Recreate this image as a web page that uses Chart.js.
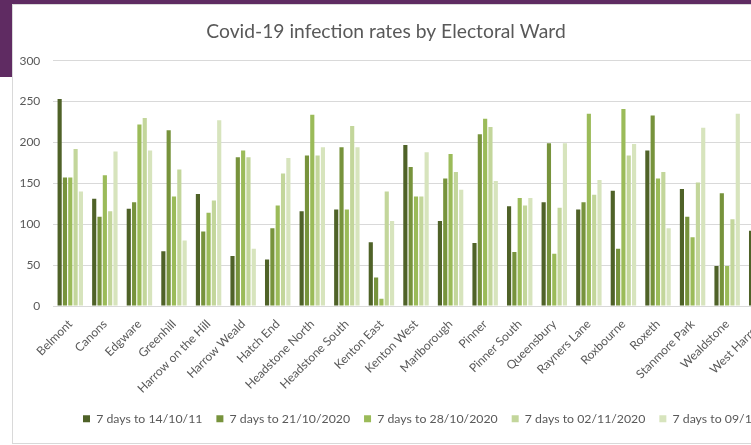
<!DOCTYPE html>
<html><head><meta charset="utf-8">
<script src="https://cdn.jsdelivr.net/npm/chart.js@4"></script>
<style>
html,body{margin:0;padding:0;width:751px;height:445px;overflow:hidden;background:#fff;}
#topbar{position:absolute;left:0;top:0;width:751px;height:4px;background:#5f2b62;}
#sidebar{position:absolute;left:0;top:0;width:12px;height:77px;background:#5f2b62;}
#box{position:absolute;left:12px;top:4px;width:880px;height:438px;border:1px solid #d9d9d9;background:#fff;}
#wrap{position:absolute;left:0;top:0;width:850px;height:438px;}
</style></head>
<body>
<div id="topbar"></div><div id="sidebar"></div>
<div id="box"><div id="wrap"><canvas id="c"></canvas></div></div>
<script>
const categories = ['Belmont','Canons','Edgware','Greenhill','Harrow on the Hill','Harrow Weald','Hatch End','Headstone North','Headstone South','Kenton East','Kenton West','Marlborough','Pinner','Pinner South','Queensbury','Rayners Lane','Roxbourne','Roxeth','Stanmore Park','Wealdstone','West Harrow'];
const seriesLabels = ['7 days to 14/10/11','7 days to 21/10/2020','7 days to 28/10/2020','7 days to 02/11/2020','7 days to 09/11/2020'];
const week1 = [253,131,119,67,137,61,57,116,118,78,197,104,77,122,127,118,141,190,143,49,92];
const week2 = [157,109,127,215,91,182,95,184,194,35,170,156,210,66,199,127,70,233,109,138,110];
const week3 = [157,160,222,134,114,190,123,234,118,9,134,186,229,132,64,235,241,156,84,49,130];
const week4 = [192,116,230,167,129,182,162,184,220,140,134,164,219,123,120,136,184,164,151,106,150];
const week5 = [140,189,190,80,227,70,181,194,194,104,188,142,153,132,199,154,198,95,218,235,170];
const yTicks = [0,50,100,150,200,250,300];
const colors = ['#4f6228','#77933c','#9bbb59','#c3d69b','#d7e4bd'];
const FONT = 'Lato';

const allSeries = [week1,week2,week3,week4,week5];
const titleShift = {id:'titleShift', afterLayout(chart){ const t = chart.titleBlock; if(t){ t.left = 0; t.right = 746; } }};

new Chart(document.getElementById('c'), {
  type:'bar',
  data:{
    labels:categories,
    datasets: allSeries.map((d,i)=>({label:seriesLabels[i], data:d, backgroundColor:colors[i], borderWidth:0, barPercentage:0.78, categoryPercentage:0.77}))
  },
  plugins:[titleShift],
  options:{
    responsive:true, maintainAspectRatio:false, animation:false,
    layout:{padding:{left:0,right:0,top:0,bottom:8}},
    plugins:{
      title:{display:true, text:'Covid-19 infection rates by Electoral Ward', color:'#595959', font:{size:19.3, weight:'normal', family:FONT}, padding:{top:15, bottom:17.5}},
      legend:{position:'bottom', labels:{boxWidth:7, boxHeight:7, padding:14, color:'#595959', font:{size:12.3, family:FONT}}},
      tooltip:{enabled:false}
    },
    scales:{
      x:{grid:{display:false}, border:{display:false}, ticks:{autoSkip:false, minRotation:45, maxRotation:45, color:'#595959', font:{size:12, family:FONT}}, afterFit(s){ s.height = 92.7; }},
      y:{min:0, max:300, grid:{color:'#d9d9d9', drawTicks:false}, border:{display:false},
         ticks:{padding:12.7, color:'#595959', font:{size:12, family:FONT}},
         afterBuildTicks(s){ s.ticks = yTicks.map(v=>({value:v})); },
         afterFit(s){ s.width = 40; }},
      y2:{position:'right', display:true, grid:{display:false, drawTicks:false}, border:{display:false}, ticks:{display:false}, afterFit(s){ s.width = 84; }}
    }
  }
});
</script>
</body></html>
